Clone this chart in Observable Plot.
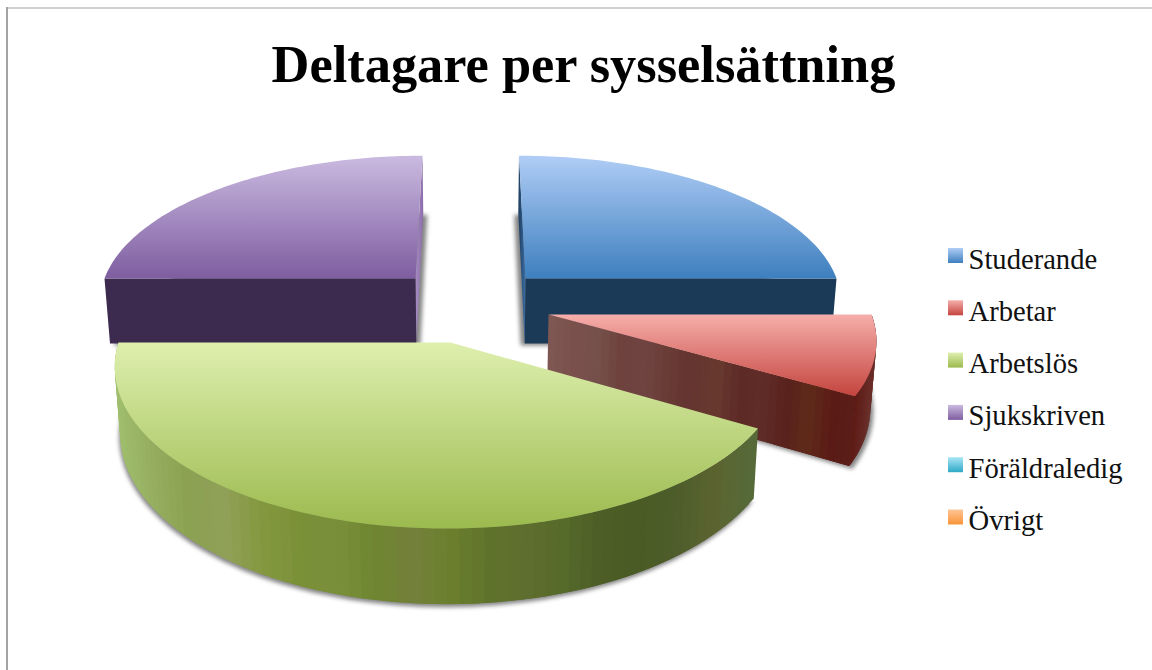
<!DOCTYPE html>
<html lang="sv">
<head>
<meta charset="utf-8">
<style>
html,body{margin:0;padding:0;background:#fff;overflow:hidden}
svg{display:block}
</style>
<script src="https://cdn.jsdelivr.net/npm/d3@7"></script>
<script src="https://cdn.jsdelivr.net/npm/@observablehq/plot@0.6"></script>
</head>
<body>
<div id="chart"></div>
<script>
// Data
const chartTitle = "Deltagare per sysselsättning";
const categories = ["Studerande", "Arbetar", "Arbetslös", "Sjukskriven", "Föräldraledig", "Övrigt"];
const values = [3, 1, 5, 3, 0, 0];

// Colours
const topColors = [["#b0cdf6", "#3d7fbe"], ["#f6aeaa", "#c4443e"], ["#deefae", "#9bba4e"], ["#cabae0", "#7e5da0"], ["#a8e6f6", "#2fa9c6"], ["#ffc596", "#f79437"]];
const rimStops = [
  null,
  ["#5e1a14", "#64241f", "#6a2d28"],
  ["#a0bf6e", "#96ae60", "#8ba152", "#90a058", "#84993f", "#7a9038", "#7a8f3a", "#6f8630", "#74803a", "#6b7f2d", "#5f732c", "#5f6e2e", "#566a2a", "#4c5d26", "#4a5b25", "#4d5d2b", "#5c6430", "#556a3a"],
  null
];
const redFaceStops = ["#7e5752", "#7a504c", "#75504a", "#6e413d", "#6f4440", "#693b35", "#643430", "#683a2e", "#5e2a26", "#5f2c28", "#5a211c", "#5f2a1a", "#5a1a16", "#5a1f18"];
const sliverStops = {0: ["#1c3c5c", "#3c6ea6"], 3: ["#a58cc0", "#8a6caa"]};
const frontFaces = {0: "#1a3a58", 3: "#3c2b4e"};

// Layout of the exploded, perspective pie
const vx = 472, persp = 0.14, depth = 65, converge = 0.985;
const layout = [
  {ax: 525, ay: 278, R: 311, a: 140, sx: -4, sy: 2},
  {ax: 548, ay: 314, R: 323, a: 152, sx: 3, sy: 3},
  {ax: 450, ay: 342, R: 332, a: 160, sx: -1, sy: 3},
  {ax: 415, ay: 278, R: 311, a: 140, sx: 4, sy: 2}
];

const project = (s, t, low = false) => {
  const d = -Math.cos(t), w = 1 / (1 - persp * d);
  let x = vx + (s.ax - vx + s.R * Math.sin(t)) * w;
  let y = s.ay + s.a * d * w;
  if (low) { x = vx + (x - vx) * converge; y += depth * w; }
  return {x, y};
};
const arcPts = (s, t0, t1, low) => d3.range(0, 81).map(i => project(s, t0 + (t1 - t0) * i / 80, low));
const apex = (s, low) => low ? {x: vx + (s.ax - vx) * converge, y: s.ay + depth} : {x: s.ax, y: s.ay};

// Gradients
const defs = d3.create("svg:defs");
const addGradient = (id, stops, vertical) => {
  const g = defs.append("linearGradient").attr("id", id)
    .attr("x1", 0).attr("y1", 0).attr("x2", vertical ? 0 : 1).attr("y2", vertical ? 1 : 0);
  stops.forEach((c, i) => g.append("stop").attr("offset", i / (stops.length - 1)).attr("stop-color", c));
  return `url(#${id})`;
};

const poly = (pts, fill, extra = {}) => Plot.line(pts, {x: "x", y: "y", fill, stroke: "none", ...extra});

// A wall drawn as narrow vertical facets: each facet is one colour, coloured
// by where its x falls between the wall's left and right ends.
const facets = (top, low, stops) => {
  const out = [];
  const xs = top.map(p => p.x);
  const x0 = d3.min(xs), x1 = d3.max(xs);
  const ramp = d3.piecewise(d3.interpolateRgb, stops);
  const order = d3.range(top.length - 1).sort((a, b) => top[a].x - top[b].x);
  for (const k of order) {
    const n = Math.min(k + 2, top.length - 1);
    const c = ramp((Math.min(top[k].x, top[k + 1].x) - x0) / (x1 - x0));
    out.push(poly([top[k], top[n], low[n], low[k]], c));
  }
  return out;
};

const marks = [() => defs.node()];
marks.push(Plot.ruleY([7.5], {x1: 6, x2: 1152, stroke: "#a3a3a3", strokeWidth: 1}));
marks.push(Plot.ruleX([6.5], {y1: 7, y2: 670, stroke: "#a3a3a3", strokeWidth: 2}));

const total = d3.sum(values);
let acc = 0;
const slices = values.map((v, i) => {
  const t0 = acc / total * 2 * Math.PI;
  acc += v;
  return {i, v, t0, t1: acc / total * 2 * Math.PI};
}).filter(d => d.v > 0);

const paint = [3, 0, 1, 2];
for (const i of paint) {
  const {t0, t1} = slices[i], s = layout[i];
  // soft shadow of the slice's underside
  const under = [apex(s, true), ...arcPts(s, t0, t1, true)].map(p => ({x: p.x + s.sx, y: p.y + s.sy}));
  marks.push(poly(under, "#6f6f6f", {imageFilter: "blur(2px)", fillOpacity: 0.85}));
  // thin radial wall seen edge-on along the pie's vertical gap
  if (sliverStops[i]) {
    const t = i === 0 ? t0 : t1;
    marks.push(poly([project(s, t), apex(s), apex(s, true), project(s, t, true)], addGradient(`ws${i}`, sliverStops[i], false)));
  }
  // flat front face along the horizontal radius
  if (frontFaces[i]) {
    const t = i === 0 ? t1 : t0;
    marks.push(poly([project(s, t), apex(s), apex(s, true), project(s, t, true)], frontFaces[i]));
  }
  // faceted radial wall of the Arbetar slice
  if (i === 1) {
    const end = project(s, t1), endLow = project(s, t1, true), a = apex(s), b = apex(s, true);
    const lerp = (p, q, f) => ({x: p.x + (q.x - p.x) * f, y: p.y + (q.y - p.y) * f});
    const n = d3.range(0, 41).map(k => k / 40);
    marks.push(...facets(n.map(f => lerp(a, end, f)), n.map(f => lerp(b, endLow, f)), redFaceStops));
  }
  // outer rim
  if (rimStops[i]) marks.push(...facets(arcPts(s, t0, t1), arcPts(s, t0, t1, true), rimStops[i]));
  // top face
  marks.push(poly([apex(s), ...arcPts(s, t0, t1)], addGradient(`top${i}`, topColors[i], true)));
}

// Title
marks.push(Plot.text([chartTitle], {
  x: 583, y: 81, text: d => d, fontSize: 52.4, fontWeight: "bold",
  fontFamily: "Liberation Serif", fill: "#000", lineAnchor: "bottom"
}));

// Legend
const legend = categories.map((name, i) => ({name, row: i}));
const rowTop = r => 248 + r * 52.3;
legend.forEach((d, i) => {
  marks.push(Plot.rect([d], {
    x1: 948, x2: 963, y1: e => rowTop(e.row), y2: e => rowTop(e.row) + 15,
    fill: addGradient(`leg${i}`, topColors[i], true)
  }));
});
marks.push(Plot.text(legend, {
  x: 968, y: d => rowTop(d.row) + 20, text: "name", textAnchor: "start", lineAnchor: "bottom",
  fontSize: 28.6, fontFamily: "Liberation Serif", fill: "#111"
}));

const chart = Plot.plot({
  width: 1152, height: 670, margin: 0,
  x: {domain: [0, 1152], range: [0, 1152], axis: null},
  y: {domain: [0, 670], range: [0, 670], axis: null},
  style: {background: "#fff"},
  marks
});
document.getElementById("chart").append(chart);
</script>
</body>
</html>
